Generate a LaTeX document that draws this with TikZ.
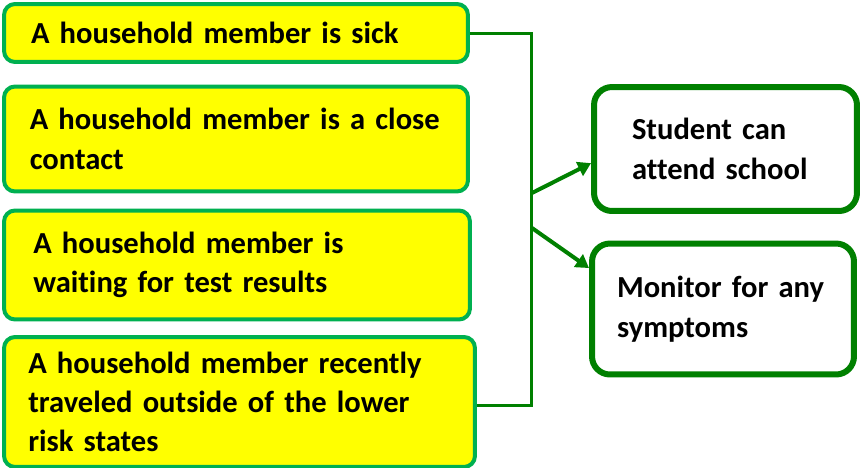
\documentclass[tikz,border=0pt]{standalone}
\usepackage{fontspec}
\setmainfont{Carlito}[Ligatures=CommonOff]
\usetikzlibrary{arrows.meta, positioning}
\usetikzlibrary{calc}

\definecolor{lightgreen}{RGB}{0,176,80}
\definecolor{darkgreen}{RGB}{0,128,0}
\definecolor{boxyellow}{RGB}{255,255,0}

\begin{document}
\begin{tikzpicture}[
  x=0.02cm, y=-0.02cm,
  cause/.style={rectangle, rounded corners=0.22cm, draw=lightgreen, fill=boxyellow, line width=0.08cm,
    align=left, inner sep=0pt, font=\bfseries\fontsize{17.4}{22.4}\selectfont},
  outcome/.style={rectangle, rounded corners=0.36cm, draw=darkgreen, fill=white, line width=0.12cm,
    align=left, inner sep=0pt, font=\bfseries\fontsize{17.4}{22.4}\selectfont},
  bracket/.style={draw=darkgreen, line width=0.06cm},
  conn/.style={draw=darkgreen, line width=0.08cm, -{Triangle[length=0.26cm,width=0.3cm]}}
]
\useasboundingbox (0,0) rectangle (861,467);

% Causes
\node[cause, minimum width=9.28cm, minimum height=1.16cm, text width=8.2cm] (sick) at (236,33)
  {A household member is sick};
\node[cause, minimum width=9.28cm, minimum height=2.1cm, text width=8.25cm] (close) at (236,139)
  {A household member is a close\\contact};
\node[cause, minimum width=9.32cm, minimum height=2.18cm, text width=8.15cm] (waiting) at (237,265)
  {A household member is\\waiting for test results};
\node[cause, minimum width=9.42cm, minimum height=2.6cm, text width=8.45cm] (travel) at (239.5,402)
  {A household member recently\\traveled outside of the lower\\risk states};

% Outcomes
\node[outcome, minimum width=5.26cm, minimum height=2.48cm, text width=3.74cm] (attend) at (725.5,149)
  {Student can\\attend school};
\node[outcome, minimum width=5.24cm, minimum height=2.62cm, text width=4.24cm] (monitor) at (723,309)
  {Monitor for any\\symptoms};

% Bracket
\coordinate (top) at (531,33);
\coordinate (bot) at (531,405);
\coordinate (j1) at (532,193);
\coordinate (j2) at (532,228);

\draw[bracket] (sick.east) -- (top) -- (bot) -- (bot -| travel.east);

% Connections
\draw[conn] (j1) -- (attend.186);
\draw[conn] (j2) -- (monitor.163);

\end{tikzpicture}
\end{document}
